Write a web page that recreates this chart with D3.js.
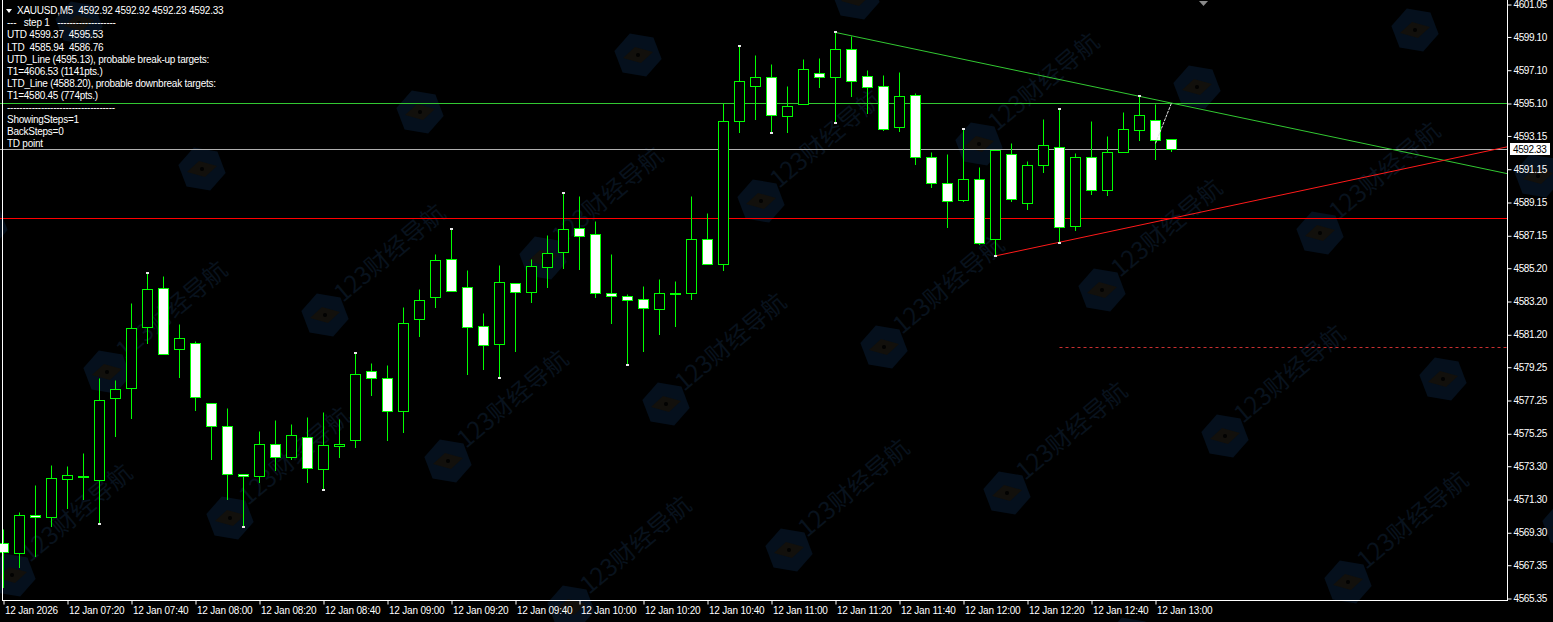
<!DOCTYPE html>
<meta charset="utf-8">
<script src="https://d3js.org/d3.v7.min.js"></script>
<style>
  body { margin: 0; background: #000; overflow: hidden; }
  svg text { font-family: "Liberation Sans", Arial, sans-serif; }
</style>
<div id="chart"></div>
<script>

// XAUUSD M5 bars, 12 Jan 2026, first bar 07:00
var opens = [4568.66, 4568.05, 4570.34, 4570.22, 4572.50, 4572.62, 4572.44, 4577.37, 4577.97, 4581.64,
  4583.98, 4580.31, 4580.68, 4577.07, 4575.69, 4572.80, 4572.68, 4574.61, 4573.82, 4575.03,
  4573.10, 4574.49, 4574.85, 4578.99, 4578.57, 4576.59, 4582.12, 4583.44, 4585.72, 4584.04,
  4581.70, 4580.62, 4584.28, 4583.74, 4585.24, 4586.15, 4587.59, 4587.23, 4583.68, 4583.50,
  4583.32, 4582.72, 4583.68, 4583.68, 4586.93, 4585.42, 4594.02, 4596.12, 4596.66, 4594.32,
  4595.04, 4596.90, 4596.66, 4598.34, 4596.72, 4596.12, 4593.66, 4595.58, 4591.85, 4590.29,
  4589.27, 4590.53, 4586.93, 4592.03, 4589.09, 4591.37, 4592.46, 4587.71, 4591.85, 4589.87,
  4592.15, 4593.48, 4594.08, 4592.92];
var highs = [4569.50, 4570.52, 4572.14, 4573.34, 4573.28, 4574.06, 4578.57, 4578.45, 4583.08, 4584.88,
  4584.70, 4581.82, 4580.80, 4577.07, 4576.77, 4572.80, 4575.39, 4576.05, 4575.81, 4576.23,
  4576.53, 4576.11, 4580.07, 4579.47, 4579.35, 4582.84, 4583.92, 4586.02, 4587.53, 4585.06,
  4582.48, 4585.36, 4584.28, 4585.72, 4587.17, 4589.69, 4589.51, 4588.01, 4586.02, 4583.62,
  4584.10, 4584.52, 4584.40, 4589.51, 4588.49, 4595.10, 4598.53, 4597.98, 4597.44, 4596.12,
  4597.74, 4597.80, 4599.37, 4599.13, 4597.08, 4596.78, 4596.96, 4595.70, 4592.15, 4592.03,
  4593.54, 4591.25, 4592.27, 4592.70, 4591.61, 4594.14, 4594.74, 4592.09, 4594.02, 4593.12,
  4594.56, 4595.53, 4595.04, 4592.92];
var lows = [4566.01, 4567.21, 4567.87, 4569.68, 4570.76, 4571.30, 4569.86, 4575.09, 4576.17, 4580.68,
  4580.01, 4578.63, 4576.65, 4573.70, 4571.30, 4569.68, 4572.32, 4573.04, 4573.70, 4572.32,
  4571.90, 4573.82, 4574.43, 4577.55, 4574.85, 4575.33, 4581.10, 4582.84, 4583.80, 4578.81,
  4579.11, 4578.63, 4580.20, 4583.14, 4584.04, 4585.18, 4585.12, 4583.44, 4581.88, 4579.41,
  4580.20, 4581.22, 4581.70, 4583.32, 4585.42, 4585.06, 4593.36, 4594.14, 4593.36, 4593.36,
  4595.04, 4596.06, 4593.96, 4595.52, 4594.50, 4593.48, 4593.42, 4591.43, 4590.05, 4587.65,
  4589.21, 4586.63, 4585.94, 4589.21, 4588.73, 4590.95, 4586.76, 4587.47, 4589.63, 4589.57,
  4592.15, 4592.88, 4591.73, 4592.23];
var closes = [4568.11, 4570.34, 4570.22, 4572.56, 4572.74, 4572.68, 4577.25, 4577.91, 4581.58, 4583.92,
  4580.01, 4580.98, 4577.43, 4575.69, 4572.80, 4572.68, 4574.61, 4573.82, 4575.15, 4573.16,
  4574.55, 4574.61, 4578.81, 4578.57, 4576.59, 4581.88, 4583.26, 4585.66, 4583.80, 4581.64,
  4580.56, 4584.34, 4583.74, 4585.30, 4586.09, 4587.53, 4587.11, 4583.68, 4583.50, 4583.26,
  4582.78, 4583.68, 4583.68, 4586.93, 4585.42, 4594.02, 4596.42, 4596.66, 4594.38, 4594.92,
  4597.14, 4596.66, 4598.34, 4596.42, 4596.06, 4593.54, 4595.52, 4591.85, 4590.29, 4589.21,
  4590.53, 4586.69, 4592.27, 4589.33, 4591.37, 4592.58, 4587.65, 4591.85, 4589.87, 4592.15,
  4593.54, 4594.38, 4592.88, 4592.33];

var priceTicks = [4601.05, 4599.10, 4597.10, 4595.10, 4593.15, 4591.15, 4589.15, 4587.15, 4585.20,
  4583.20, 4581.20, 4579.25, 4577.25, 4575.25, 4573.30, 4571.30, 4569.30, 4567.35, 4565.35];
var timeTickBars = [0, 4, 8, 12, 16, 20, 24, 28, 32, 36, 40, 44, 48, 52, 56, 60, 64, 68, 72];

// TD points (bar index) and the indicator levels
var tdHighBars = [9, 22, 28, 35, 46, 52, 60, 66, 71];
var tdLowBars = [6, 15, 20, 31, 39, 48, 52, 62, 66];
var utdPoints = [[52, 4599.37], [71, 4595.53]];
var ltdPoints = [[62, 4585.94], [66, 4586.76]];
var utdLevel = 4595.13, ltdLevel = 4588.20, downTarget = 4580.45, bid = 4592.33;
var pointerLine = [[72, 4592.70], [73, 4595.13]];

var infoLines = [
  "---   step 1   -------------------",
  "UTD 4599.37  4595.53",
  "LTD  4585.94  4586.76",
  "UTD_Line (4595.13), probable break-up targets:",
  "T1=4606.53 (1141pts.)",
  "LTD_Line (4588.20), probable downbreak targets:",
  "T1=4580.45 (774pts.)",
  "-----------------------------------",
  "ShowingSteps=1",
  "BackSteps=0",
  "TD point"
];

var W = 1553, H = 622, plotRight = 1507, plotBottom = 600;
var t0 = Date.UTC(2026, 0, 12, 7, 0);
var step = 5 * 60 * 1000;
function barTime(i) { return new Date(t0 + i * step); }

var bars = opens.map(function(o, i) {
  return {t: barTime(i), o: o, h: highs[i], l: lows[i], c: closes[i]};
});

var svg = d3.select("#chart").append("svg")
  .attr("width", W).attr("height", H)
  .style("background", "#000");

var x = d3.scaleTime()
  .domain([barTime(0), barTime(1)])
  .range([3.5, 19.5]);
var y = d3.scaleLinear()
  .domain([4565.35, 4601.05])
  .range([598.5, 4.5]);

function py(v) { return Math.round(y(v) - 0.5) + 0.5; }

// faint watermark
var wm = svg.append("g");
for (var i = -4; i < 10; i++) {
  for (var j = -4; j < 6; j++) {
    var cx = 107 + 218 * i + 123 * j, cy = 372 - 57 * i + 146 * j;
    if (cx < -40 || cx > W + 40 || cy < -40 || cy > H + 40) continue;
    var hex = d3.range(6).map(function(k) {
      var a = (k * 60 + 10) * Math.PI / 180;
      return [cx + 24 * Math.cos(a), cy + 23 * Math.sin(a)];
    });
    wm.append("polygon").attr("points", hex.join(" ")).attr("fill", "#05101d");
    wm.append("polygon")
      .attr("points", [[cx - 15, cy + 3], [cx - 3, cy - 8], [cx + 15, cy - 3], [cx + 3, cy + 8]].join(" "))
      .attr("fill", "#12100c");
    wm.append("circle").attr("cx", cx).attr("cy", cy).attr("r", 2).attr("fill", "#020202");
    // only whole labels, clear of the info block
    var tx = cx + 18, ty = cy - 12;
    if (tx < 20 || tx + 125 > W - 2 || ty - 100 < 2 || ty + 12 > H - 2) continue;
    if (tx < 240 && ty - 100 < 160) continue;
    wm.append("text")
      .attr("transform", "translate(" + tx + "," + ty + ") rotate(-40)")
      .style("font-family", "'Noto Sans CJK SC', sans-serif")
      .style("font-size", "24px")
      .attr("fill", "#08121d")
      .text("123财经导航");
  }
}

// horizontal levels
function hline(v, color, x1, dash) {
  svg.append("line")
    .attr("x1", x1).attr("x2", plotRight)
    .attr("y1", py(v)).attr("y2", py(v))
    .attr("stroke", color).attr("stroke-width", 1)
    .attr("stroke-dasharray", dash || null);
}
hline(utdLevel, "#32c832", 0);
hline(ltdLevel, "#ff0000", 0);
hline(bid, "#b0b0b0", 0);
hline(downTarget, "#c83030", x(barTime(66)), "3,3");

// candles
var g = svg.append("g");
g.selectAll(".wick").data(bars).enter().append("line")
  .attr("x1", function(d) { return x(d.t); })
  .attr("x2", function(d) { return x(d.t); })
  .attr("y1", function(d) { return py(d.h); })
  .attr("y2", function(d) { return py(d.l) + 0.5; })
  .attr("stroke", "#00ff00");
g.selectAll(".body").data(bars).enter().append("rect")
  .attr("x", function(d) { return x(d.t) - 5; })
  .attr("width", 10)
  .attr("y", function(d) { return py(Math.max(d.o, d.c)); })
  .attr("height", function(d) { return Math.max(1, py(Math.min(d.o, d.c)) - py(Math.max(d.o, d.c))); })
  .attr("fill", function(d) { return d.c < d.o ? "#ffffff" : "#000000"; })
  .attr("stroke", "#00ff00").attr("stroke-width", 1);

// trend lines, extended to the right edge
function trend(pts, color) {
  var x1 = x(barTime(pts[0][0])), y1 = y(pts[0][1]);
  var x2 = x(barTime(pts[1][0])), y2 = y(pts[1][1]);
  var yr = y1 + (y2 - y1) * (plotRight - x1) / (x2 - x1);
  svg.append("line")
    .attr("x1", x1).attr("y1", y1).attr("x2", plotRight).attr("y2", yr)
    .attr("stroke", color).attr("stroke-width", 1);
}
trend(utdPoints, "#32c832");
trend(ltdPoints, "#ff1a1a");

svg.append("line")
  .attr("x1", x(barTime(pointerLine[0][0]))).attr("y1", y(pointerLine[0][1]))
  .attr("x2", x(barTime(pointerLine[1][0]))).attr("y2", y(pointerLine[1][1]))
  .attr("stroke", "#e6e6e6").attr("stroke-dasharray", "3,1");

// TD point marks
function tdMark(i, v, dy) {
  svg.append("rect")
    .attr("x", x(barTime(i)) - 1.5).attr("y", py(v) + dy)
    .attr("width", 3).attr("height", 2)
    .attr("fill", "#e8e8e8");
}
tdHighBars.forEach(function(i) { tdMark(i, highs[i], -1.5); });
tdLowBars.forEach(function(i) { tdMark(i, lows[i], -0.5); });

// frame
svg.append("line").attr("x1", 2.5).attr("x2", 2.5).attr("y1", 0).attr("y2", plotBottom + 1).attr("stroke", "#fff");
svg.append("line").attr("x1", plotRight + 0.5).attr("x2", plotRight + 0.5).attr("y1", 0).attr("y2", plotBottom + 1).attr("stroke", "#fff");
svg.append("line").attr("x1", 2).attr("x2", plotRight + 1).attr("y1", plotBottom + 0.5).attr("y2", plotBottom + 0.5).attr("stroke", "#fff");

// price axis
var yAxis = svg.append("g")
  .attr("transform", "translate(" + (plotRight + 0.5) + ",0)")
  .call(d3.axisRight(y).tickValues(priceTicks).tickFormat(d3.format(".2f")).tickSize(4).tickPadding(2));
yAxis.select(".domain").remove();
yAxis.selectAll(".tick line").attr("stroke", "#fff");
yAxis.selectAll(".tick text").attr("fill", "#fff")
  .style("font-size", "10px").style("letter-spacing", "-0.4px");

// time axis
var fmtHM = d3.utcFormat("%d %b %H:%M");
var xAxis = svg.append("g")
  .attr("transform", "translate(0," + (plotBottom + 0.5) + ")")
  .call(d3.axisBottom(x)
    .tickValues(timeTickBars.map(barTime))
    .tickFormat(function(d, i) { return i === 0 ? d3.utcFormat("%d %b %Y")(d) : fmtHM(d); })
    .tickSize(4).tickPadding(2));
xAxis.select(".domain").remove();
xAxis.selectAll(".tick line").attr("stroke", "#fff");
xAxis.selectAll(".tick text")
  .attr("fill", "#fff").attr("text-anchor", "start").attr("x", 1)
  .style("font-size", "10px").style("letter-spacing", "-0.2px");

// bid price label
svg.append("rect")
  .attr("x", 1510).attr("y", py(bid) - 6.5).attr("width", 40).attr("height", 12)
  .attr("fill", "#fff");
svg.append("text")
  .attr("x", 1513).attr("y", py(bid) + 3.5)
  .attr("fill", "#000").style("font-size", "10px").style("letter-spacing", "-0.4px")
  .text(d3.format(".2f")(bid));

// shift marker at top
svg.append("polygon")
  .attr("points", "1199,1 1208,1 1203.5,6")
  .attr("fill", "#8a8a8a");

// info text, top left
svg.append("polygon").attr("points", "6,9 12,9 9,13").attr("fill", "#fff");
svg.append("text")
  .attr("x", 17).attr("y", 14.3)
  .attr("fill", "#fff").style("font-size", "10px").style("letter-spacing", "-0.25px")
  .style("white-space", "pre")
  .text("XAUUSD,M5  " + [opens[73], highs[73], lows[73], closes[73]].map(d3.format(".2f")).join(" "));
svg.selectAll(".info").data(infoLines).enter().append("text")
  .attr("x", 7)
  .attr("y", function(d, i) { return 26.4 + 12.05 * i; })
  .attr("fill", "#fff").style("font-size", "10px").style("letter-spacing", "-0.25px")
  .style("white-space", "pre")
  .text(function(d) { return d; });

</script>
